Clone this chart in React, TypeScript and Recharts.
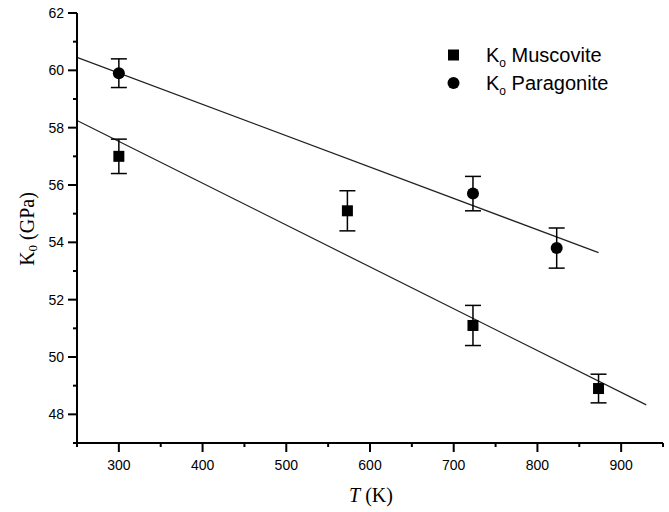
import { ComposedChart, XAxis, YAxis, Scatter, Line, ErrorBar } from "recharts"

// Bulk modulus K0 vs temperature.
const muscoviteT = [300, 573, 723, 873]
const muscoviteK0 = [57.0, 55.1, 51.1, 48.9]
const muscoviteErr = [0.6, 0.7, 0.7, 0.5]

const paragoniteT = [300, 723, 823]
const paragoniteK0 = [59.9, 55.7, 53.8]
const paragoniteErr = [0.5, 0.6, 0.7]

// linear fits drawn through the points
const muscoviteFitT = [250, 930]
const muscoviteFitK0 = [58.25, 48.33]
const paragoniteFitT = [250, 873]
const paragoniteFitK0 = [60.45, 53.64]

const xTicks = [250, 300, 350, 400, 450, 500, 550, 600, 650, 700, 750, 800, 850, 900, 950]
const yTicks = [47, 48, 49, 50, 51, 52, 53, 54, 55, 56, 57, 58, 59, 60, 61, 62]

const muscovite = muscoviteT.map((x, i) => ({ x, y: muscoviteK0[i], err: muscoviteErr[i] }))
const paragonite = paragoniteT.map((x, i) => ({ x, y: paragoniteK0[i], err: paragoniteErr[i] }))
const muscoviteFit = muscoviteFitT.map((x, i) => ({ x, y: muscoviteFitK0[i] }))
const paragoniteFit = paragoniteFitT.map((x, i) => ({ x, y: paragoniteFitK0[i] }))

const TICK_FONT = "'Liberation Sans Narrow', 'Arial Narrow', 'Liberation Sans', Arial, sans-serif"
const SERIF = "'Liberation Serif', 'Times New Roman', serif"
const SANS = "'Liberation Sans', Arial, sans-serif"

function XTick(props: any) {
	const { x, y, payload } = props
	const major = payload.value % 100 === 0
	return (
		<g>
			<line x1={x} y1={y} x2={x} y2={y + (major ? 9 : 4)} stroke="#000" strokeWidth={2} />
			{major && (
				<text x={x} y={y + 27} textAnchor="middle" fontFamily={TICK_FONT} fontSize={14} fill="#000">
					{payload.value}
				</text>
			)}
		</g>
	)
}

function YTick(props: any) {
	const { x, y, payload } = props
	const major = payload.value % 2 === 0
	return (
		<g>
			<line x1={x} y1={y} x2={x - (major ? 9 : 4)} y2={y} stroke="#000" strokeWidth={2} />
			{major && (
				<text x={x - 13} y={y + 5} textAnchor="end" fontFamily={TICK_FONT} fontSize={14} fill="#000">
					{payload.value}
				</text>
			)}
		</g>
	)
}

const square = (p: any) => <rect x={p.cx - 5.5} y={p.cy - 5.5} width={11} height={11} fill="#000" />
const dot = (p: any) => <circle cx={p.cx} cy={p.cy} r={6} fill="#000" />

// legend sits over the plot, top right; kept out of the chart so it doesn't eat plot height
function LegendBox() {
	return (
		<svg width={210} height={75} style={{ position: "absolute", left: 440, top: 35, overflow: "visible" }}>
			<rect x={8} y={14.5} width={11} height={11} fill="#000" />
			<circle cx={13.5} cy={48} r={6} fill="#000" />
			<text x={46} y={27} fontFamily={SANS} fontSize={20} fill="#000">
				K<tspan fontSize={12} dy={5}>o</tspan>
				<tspan dy={-5}> Muscovite</tspan>
			</text>
			<text x={46} y={55} fontFamily={SANS} fontSize={20} fill="#000">
				K<tspan fontSize={12} dy={5}>o</tspan>
				<tspan dy={-5}> Paragonite</tspan>
			</text>
		</svg>
	)
}

export default function App() {
	return (
		<div style={{ position: "absolute", left: 0, top: 0, width: 669, height: 512, background: "#fff" }}>
			<ComposedChart width={669} height={512} margin={{ top: 13, right: 6, bottom: 0, left: 0 }}>
				<XAxis
					type="number"
					dataKey="x"
					domain={[250, 950]}
					ticks={xTicks}
					interval={0}
					height={69}
					tickSize={0}
					tickMargin={0}
					tickLine={false}
					axisLine={{ stroke: "#000", strokeWidth: 2 }}
					tick={<XTick />}
					label={{
						content: () => (
							<text x={371} y={502} textAnchor="middle" fontFamily={SERIF} fontSize={20} fill="#000">
								<tspan fontStyle="italic">T</tspan> (K)
							</text>
						),
					}}
				/>
				<YAxis
					type="number"
					dataKey="y"
					domain={[47, 62]}
					ticks={yTicks}
					interval={0}
					width={77}
					tickSize={0}
					tickMargin={0}
					tickLine={false}
					axisLine={{ stroke: "#000", strokeWidth: 2 }}
					tick={<YTick />}
					label={{
						content: () => (
							<text
								x={27}
								y={229}
								transform="rotate(-90, 27, 229)"
								textAnchor="middle"
								dominantBaseline="central"
								fontFamily={SERIF}
								fontSize={20}
								fill="#000"
							>
								K<tspan fontSize={13} dy={5}>0</tspan>
								<tspan dy={-5}> (GPa)</tspan>
							</text>
						),
					}}
				/>
				<Line data={muscoviteFit} dataKey="y" stroke="#222" strokeWidth={1.2} dot={false} isAnimationActive={false} />
				<Line data={paragoniteFit} dataKey="y" stroke="#222" strokeWidth={1.2} dot={false} isAnimationActive={false} />
				<Scatter name="Muscovite" data={muscovite} dataKey="y" shape={square} isAnimationActive={false}>
					<ErrorBar dataKey="err" direction="y" width={8} stroke="#000" strokeWidth={1.5} />
				</Scatter>
				<Scatter name="Paragonite" data={paragonite} dataKey="y" shape={dot} isAnimationActive={false}>
					<ErrorBar dataKey="err" direction="y" width={8} stroke="#000" strokeWidth={1.5} />
				</Scatter>
			</ComposedChart>
			<LegendBox />
		</div>
	)
}
